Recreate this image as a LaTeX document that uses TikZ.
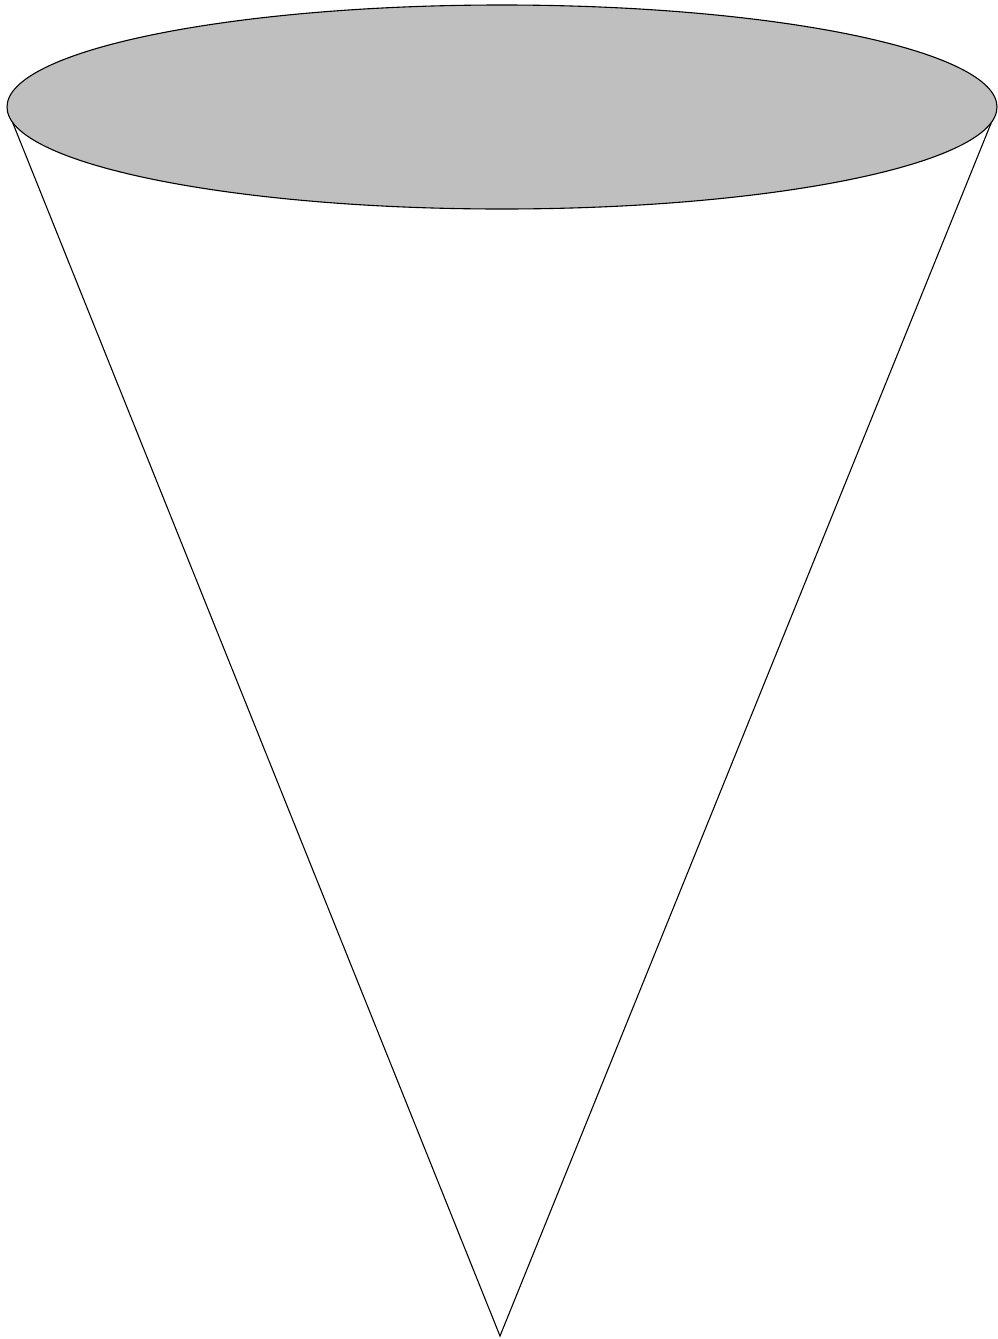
\documentclass[tikz,border=0pt]{standalone}
\begin{document}
\begin{tikzpicture}[x=1pt,y=-1pt,line width=1.1pt]
\useasboundingbox (0,0) rectangle (997,1339);
\coordinate (apex) at (500,1336);
\coordinate (tl) at (10,116);
\coordinate (tr) at (994,116);
\draw[fill=white] (tl) -- (apex) -- (tr);
\draw[fill=lightgray] (502,107) ellipse [x radius=495, y radius=102];
\end{tikzpicture}
\end{document}
